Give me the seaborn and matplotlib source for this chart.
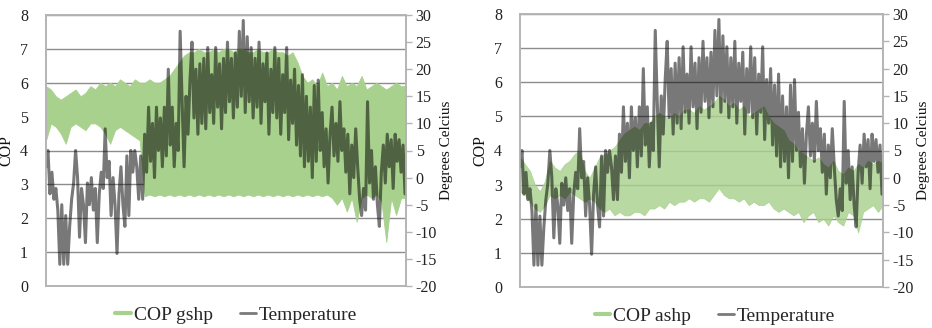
import numpy as np
import pandas as pd
import seaborn as sns
import matplotlib.pyplot as plt
from matplotlib.lines import Line2D

sns.set_theme(style="white")
plt.rcParams["font.family"] = ["Liberation Serif", "DejaVu Serif"]
plt.rcParams["axes.unicode_minus"] = False

# Outdoor temperature, sampled every 2 days through the year (deg C)
TEMP = [
    2, 5, -3, 1, -4, -2, -6, -16, -5, -16, -7, -16, -9, -4, -1, 5, 0, -11, -2, -5,
    -12, -1, -5, 0, -6, -2, -12, -3, 1, -2, 9, 0, 3, -7, 0, -5, -14, -3, 2, -5,
    -9, 4, -7, 5, 1, 5, 2, -4, 4, -4, 8, 1, 13, 3, 10, 0, 13, 5, 11, 2,
    13, 4, 20, 6, 13, 2, 10, 5, 27, 14, 2, 15, 8, 18, 25, 11, 20, 8, 21, 10,
    22, 9, 24, 12, 19, 10, 24, 13, 21, 9, 22, 12, 25, 14, 22, 11, 23, 13, 27, 15,
    29, 12, 26, 14, 24, 11, 22, 13, 25, 10, 21, 14, 23, 8, 20, 12, 24, 11, 22, 8,
    19, 12, 24, 7, 18, 10, 20, 6, 17, 4, 19, 2, 15, 3, 13, 0, 17, 3, 18, 5,
    12, 2, 9, -1, 8, 13, 4, 10, 3, 14, 5, 9, 1, 8, -3, 6, 0, 9, 2, -4,
    -7, -2, -6, 14, -1, 5, -4, 2, -5, -9, 1, 6, -1, 8, 2, 7, -2, 8, 3, 7,
    1, 6, -3,
]

# Daily COP range of the ground source heat pump, every 5 days
GSHP_HIGH = [
    5.9, 5.8, 5.6, 5.5, 5.6, 5.7, 5.8, 5.6, 5.7, 5.9, 5.8, 6.0, 5.9, 6.0, 5.9,
    6.1, 6.0, 5.9, 6.1, 6.0, 6.0, 6.1, 6.0, 6.0, 6.1, 6.2, 6.4, 6.6, 6.8, 6.9,
    6.9, 7.0, 6.9, 6.9, 7.0, 6.9, 7.0, 7.0, 6.9, 7.0, 7.0, 6.9, 6.9, 7.0, 6.9,
    6.9, 7.0, 6.9, 6.9, 6.8, 6.9, 6.6, 6.2, 6.0, 6.1, 5.9, 6.3, 5.9, 6.0, 5.8,
    6.2, 5.9, 6.0, 5.9, 6.2, 5.8, 5.9, 6.0, 5.9, 5.8, 5.9, 6.0, 5.9, 5.9,
]
GSHP_LOW = [
    4.3, 4.8, 4.7, 4.5, 4.2, 4.7, 4.8, 4.7, 4.6, 4.8, 4.8, 4.7, 4.5, 4.2, 4.6,
    4.7, 4.6, 4.5, 4.4, 4.3, 2.65, 2.7, 2.65, 2.7, 2.65, 2.7, 2.65, 2.7, 2.65, 2.7,
    2.65, 2.7, 2.65, 2.7, 2.65, 2.7, 2.65, 2.7, 2.65, 2.7, 2.65, 2.7, 2.65, 2.7, 2.65,
    2.7, 2.65, 2.7, 2.65, 2.7, 2.65, 2.7, 2.65, 2.7, 2.65, 2.7, 2.65, 2.7, 2.6, 2.4,
    2.6, 2.2, 2.6, 1.9, 2.6, 2.7, 2.6, 2.7, 2.5, 1.3, 2.6, 2.1, 2.6, 2.6,
]

# Daily COP range of the air source heat pump, every 5 days
ASHP_HIGH = [
    3.8, 3.6, 3.4, 3.0, 2.8, 3.1, 3.7, 3.5, 3.4, 3.6, 3.7, 3.9, 4.0, 3.4, 3.2,
    3.5, 3.8, 3.9, 4.0, 4.1, 4.3, 4.5, 4.6, 4.7, 4.6, 4.8, 4.8, 5.0, 5.1, 5.0,
    4.9, 5.1, 5.0, 5.2, 5.2, 5.1, 5.3, 5.2, 5.3, 5.4, 5.6, 5.5, 5.3, 5.4, 5.2,
    5.3, 5.0, 5.1, 5.2, 5.3, 5.0, 4.8, 4.7, 4.6, 4.3, 4.2, 4.0, 3.9, 3.8, 3.7,
    3.8, 3.6, 3.5, 3.7, 3.4, 3.3, 3.5, 3.4, 3.6, 3.5, 3.7, 3.6, 3.7, 3.6,
]
ASHP_LOW = [
    2.8, 2.7, 2.5, 2.3, 2.2, 2.4, 2.7, 2.6, 2.7, 2.6, 2.8, 2.7, 2.6, 2.5, 2.6,
    2.5, 2.3, 2.2, 2.3, 2.1, 2.2, 2.1, 2.1, 2.2, 2.2, 2.1, 2.3, 2.3, 2.4, 2.3,
    2.5, 2.4, 2.5, 2.5, 2.6, 2.5, 2.6, 2.6, 2.5, 2.7, 2.9, 2.7, 2.6, 2.6, 2.5,
    2.6, 2.4, 2.5, 2.4, 2.4, 2.5, 2.3, 2.2, 2.3, 2.2, 2.1, 2.2, 1.9, 2.1, 2.2,
    1.9, 2.0, 1.8, 2.1, 1.9, 1.8, 2.2, 2.1, 1.6, 2.2, 2.3, 2.4, 2.2, 2.4,
]

COP_TICKS = [0, 1, 2, 3, 4, 5, 6, 7, 8]
TEMP_TICKS = [-20, -15, -10, -5, 0, 5, 10, 15, 20, 25, 30]

temp_df = pd.DataFrame({"day": np.arange(len(TEMP)) * 2, "temp": TEMP})
cop_days = np.arange(len(GSHP_HIGH)) * 5

GREEN = "#a9d18e"
GRID = "#8c8c8c"
FRAME = "#b4b4b4"

fig = plt.figure(figsize=(9.32, 3.28), dpi=100)

panels = [
    ([46 / 932, 42 / 328, 360 / 932, 271 / 328], GSHP_LOW, GSHP_HIGH, 1.0, "COP gshp", 0.528),
    ([520 / 932, 41 / 328, 363 / 932, 273 / 328], ASHP_LOW, ASHP_HIGH, 0.82, "COP ashp", 0.537),
]

for rect, low, high, alpha, name, leg_x in panels:
    ax = fig.add_axes(rect)
    ax.set_axisbelow(True)
    ax.fill_between(cop_days, low, high, color=GREEN, alpha=alpha, lw=0.6,
                    edgecolor=GREEN)
    ax.set_xlim(0, 365)
    ax.set_ylim(0, 8)
    ax.set_yticks(COP_TICKS)
    ax.set_xticks([])
    ax.yaxis.grid(True, color=GRID, lw=1.0)
    ax.tick_params(axis="y", length=0, labelsize=11.5, pad=13, colors="#222222")
    ax.set_ylabel("COP", fontsize=11.5, labelpad=4, color="#111111")
    for side, sp in ax.spines.items():
        sp.set_color(FRAME)
        sp.set_linewidth(1.2)

    ax2 = ax.twinx()
    sns.lineplot(data=temp_df, x="day", y="temp", ax=ax2, color="black",
                 alpha=0.53, lw=2.2)
    ax2.set_ylim(-20, 30)
    ax2.set_yticks(TEMP_TICKS)
    ax2.set_xlim(0, 365)
    ax2.set_xlabel("")
    ax2.set_ylabel("Degrees Celcius", fontsize=11, labelpad=2, color="#111111")
    ax2.tick_params(axis="y", length=4, width=1.0, color=FRAME, labelsize=11.5,
                    pad=3, labelcolor="#222222", direction="out", right=True)
    for side, sp in ax2.spines.items():
        sp.set_color(FRAME)
        sp.set_linewidth(1.2)

    handles = [Line2D([], [], color=GREEN, lw=3),
               Line2D([], [], color="#7a7a7a", lw=2)]
    ax.legend(handles, [name, "Temperature"], loc="center",
              bbox_to_anchor=(leg_x, -0.107), ncol=2, frameon=False,
              fontsize=14, handlelength=0.8, handletextpad=0.15,
              columnspacing=1.4)

fig.savefig("out.png", dpi=100)
